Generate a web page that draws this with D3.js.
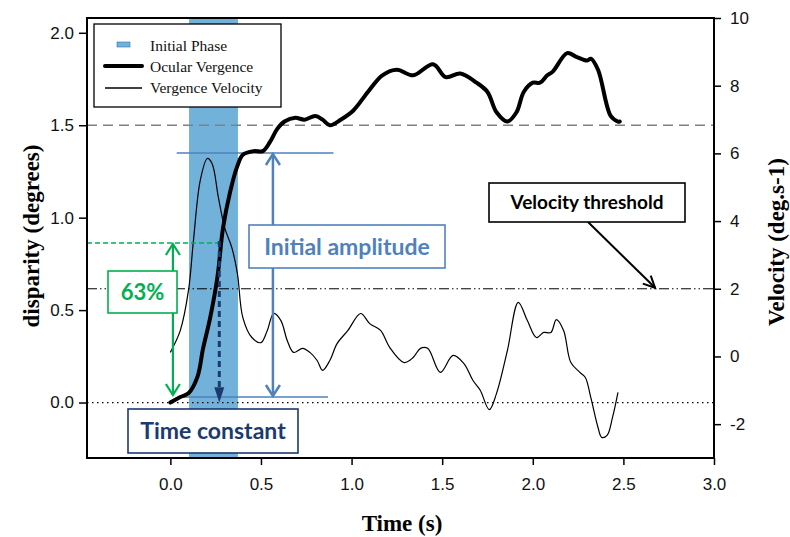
<!DOCTYPE html>
<html><head><meta charset="utf-8">
<script src="https://cdn.jsdelivr.net/npm/d3@7"></script>
<style>body{margin:0;background:#fff}</style>
</head><body><svg id="c" width="790" height="537"></svg>
<script>
// ---- data ----
const timeVerg = [0.00,0.055,0.10,0.15,0.18,0.22,0.26,0.29,0.33,0.37,0.40,0.46,0.51,0.55,0.59,0.63,0.69,0.74,0.80,0.84,0.88,0.94,1.01,1.09,1.17,1.25,1.34,1.45,1.52,1.60,1.69,1.75,1.80,1.86,1.91,1.95,2.00,2.04,2.08,2.11,2.19,2.24,2.30,2.32,2.36,2.43,2.47,2.48];
const vergence = [0.00,0.03,0.05,0.14,0.29,0.46,0.68,0.94,1.14,1.28,1.34,1.36,1.36,1.41,1.48,1.52,1.54,1.53,1.55,1.53,1.50,1.53,1.58,1.68,1.77,1.80,1.77,1.83,1.76,1.78,1.73,1.68,1.57,1.52,1.57,1.68,1.73,1.73,1.77,1.79,1.89,1.87,1.85,1.86,1.80,1.55,1.52,1.52];
const timeVel = [0.00,0.055,0.10,0.127,0.165,0.204,0.23,0.265,0.30,0.34,0.37,0.40,0.45,0.50,0.535,0.57,0.61,0.645,0.68,0.73,0.77,0.81,0.84,0.88,0.92,0.98,1.05,1.10,1.16,1.21,1.29,1.34,1.38,1.42,1.49,1.56,1.62,1.67,1.71,1.76,1.80,1.86,1.92,1.97,2.02,2.06,2.10,2.13,2.17,2.21,2.26,2.29,2.32,2.36,2.38,2.41,2.44,2.47];
const velocity = [0.12,0.77,1.95,3.4,5.2,5.85,5.7,4.7,3.8,3.2,2.45,1.15,0.56,0.41,0.77,1.27,1.06,0.47,0.12,0.24,0.12,-0.12,-0.41,-0.12,0.38,0.77,1.27,0.97,0.77,0.27,-0.18,-0.03,0.24,0.24,-0.47,0.03,-0.21,-0.71,-1.0,-1.57,-1.09,0.18,1.6,1.06,0.56,0.71,0.71,1.09,0.77,-0.18,-0.47,-0.62,-1.21,-2.1,-2.39,-2.33,-1.8,-1.06];
const xTicks = [0,0.5,1,1.5,2,2.5,3];
const yLeftTicks = [0,0.5,1,1.5,2];
const yRightTicks = [-2,0,2,4,6,8,10];
const initialPhase = [0.103, 0.373];
const velocityThreshold = 2;
const targetDisparity = 1.5;
const amplitudeTop = 1.35;
const amplitudeBase = 0.03;
const level63 = 0.863;
const timeConstant = 0.27;
const legendLabels = ["Initial Phase","Ocular Vergence","Vergence Velocity"];

// ---- scales ----
const L=87,R=714,T=18,B=458;
const x = d3.scaleLinear().domain([-0.46,3]).range([L,R]);
const yL = d3.scaleLinear().domain([-0.3,2.08]).range([B,T]);
const yR = d3.scaleLinear().domain([-3,10]).range([B,T]);

const svg = d3.select("#c");
const blue="#4f81bd", green="#00b050", navy="#1b3a6f", bandCol="#72b2da";

// band
svg.append("rect").attr("x",x(initialPhase[0])).attr("width",x(initialPhase[1])-x(initialPhase[0]))
  .attr("y",T).attr("height",B-T).attr("fill",bandCol);

// reference lines
svg.append("line").attr("x1",L).attr("x2",R).attr("y1",yL(targetDisparity)).attr("y2",yL(targetDisparity))
  .attr("stroke","#808080").attr("stroke-width",1.3).attr("stroke-dasharray","10,6");
svg.append("line").attr("x1",L).attr("x2",R).attr("y1",yR(velocityThreshold)).attr("y2",yR(velocityThreshold))
  .attr("stroke","#000").attr("stroke-width",1).attr("stroke-dasharray","10,3,1.5,3,1.5,3");
svg.append("line").attr("x1",L).attr("x2",R).attr("y1",yL(0)).attr("y2",yL(0))
  .attr("stroke","#000").attr("stroke-width",1.3).attr("stroke-dasharray","1.5,3.5");

// amplitude lines
svg.append("line").attr("x1",x(0.035)).attr("x2",x(0.90)).attr("y1",yL(amplitudeTop)).attr("y2",yL(amplitudeTop))
  .attr("stroke",blue).attr("stroke-width",1.5);
svg.append("line").attr("x1",x(0.04)).attr("x2",x(0.87)).attr("y1",yL(amplitudeBase)).attr("y2",yL(amplitudeBase))
  .attr("stroke",blue).attr("stroke-width",1.5);

// curves
const lineV = d3.line().x((d,i)=>x(timeVel[i])).y(d=>yR(d)).curve(d3.curveCatmullRom);
svg.append("path").attr("d",lineV(velocity)).attr("fill","none").attr("stroke","#000").attr("stroke-width",1.2);
const lineG = d3.line().x((d,i)=>x(timeVerg[i])).y(d=>yL(d)).curve(d3.curveCatmullRom);
svg.append("path").attr("d",lineG(vergence)).attr("fill","none").attr("stroke","#000").attr("stroke-width",4).attr("stroke-linecap","round");

function chevron(cx,cy,dir,col,w){ // dir: -1 tip up, 1 tip down
  svg.append("path").attr("d",`M${cx-7},${cy-dir*11}L${cx},${cy}L${cx+7},${cy-dir*11}`)
    .attr("fill","none").attr("stroke",col).attr("stroke-width",w);
}

// blue double arrow
const ax = x(0.566);
svg.append("line").attr("x1",ax).attr("x2",ax).attr("y1",yL(amplitudeTop)+1).attr("y2",yL(amplitudeBase)-1)
  .attr("stroke",blue).attr("stroke-width",2.5);
chevron(ax,yL(amplitudeTop)+1,-1,blue,2.5);
chevron(ax,yL(amplitudeBase)-1,1,blue,2.5);

// green
svg.append("line").attr("x1",L).attr("x2",x(timeConstant)).attr("y1",yL(level63)).attr("y2",yL(level63))
  .attr("stroke",green).attr("stroke-width",1.5).attr("stroke-dasharray","5,3");
const gx = x(0.014);
svg.append("line").attr("x1",gx).attr("x2",gx).attr("y1",yL(level63)+1).attr("y2",yL(amplitudeBase)-2)
  .attr("stroke",green).attr("stroke-width",2.2);
chevron(gx,yL(level63)+1,-1,green,2.2);
chevron(gx,yL(amplitudeBase)-2,1,green,2.2);

// navy dashed arrow
const nx = x(timeConstant);
svg.append("line").attr("x1",nx).attr("x2",nx).attr("y1",yL(level63)-2).attr("y2",yL(0.04))
  .attr("stroke",navy).attr("stroke-width",3).attr("stroke-dasharray","6,4");
svg.append("path").attr("d",`M${nx-5},${yL(0.04)-8}L${nx},${yL(0.0)}L${nx+5},${yL(0.04)-8}Z`).attr("fill",navy);

// threshold arrow
const tx2=x(2.675), ty2=yR(velocityThreshold)-1;
svg.append("line").attr("x1",588).attr("y1",222).attr("x2",tx2).attr("y2",ty2).attr("stroke","#000").attr("stroke-width",2);
{
  const ang=Math.atan2(ty2-222,tx2-588), len=13, sp=0.45;
  svg.append("path").attr("d",`M${tx2-len*Math.cos(ang-sp)},${ty2-len*Math.sin(ang-sp)}L${tx2},${ty2}L${tx2-len*Math.cos(ang+sp)},${ty2-len*Math.sin(ang+sp)}`)
    .attr("fill","none").attr("stroke","#000").attr("stroke-width",2);
}

// annotation boxes
function box(x0,y0,w,h,col,txt,size){
  svg.append("rect").attr("x",x0).attr("y",y0).attr("width",w).attr("height",h)
    .attr("fill","#fff").attr("stroke",col).attr("stroke-width",1.6);
  svg.append("text").attr("x",x0+w/2).attr("y",y0+h/2).attr("dy","0.36em").attr("text-anchor","middle")
    .attr("font-family","Lato, 'Open Sans', sans-serif").attr("font-weight","bold").attr("font-size",size)
    .attr("fill",col).text(txt);
}
box(249,225,196,43,blue,"Initial amplitude",23);
box(108,271,69,42,green,"63%",22);
box(128,409,170,44,navy,"Time constant",23);
box(489,183,196,39,"#000","Velocity threshold",19);

// frame
svg.append("rect").attr("x",L).attr("y",T).attr("width",R-L).attr("height",B-T)
  .attr("fill","none").attr("stroke","#000").attr("stroke-width",2);

// axes
const font="'Liberation Sans', Arial, sans-serif";
const gx_ = svg.append("g").attr("transform",`translate(0,${B})`)
  .call(d3.axisBottom(x).tickValues(xTicks).tickFormat(d3.format(".1f")).tickSize(7).tickPadding(13));
const gl = svg.append("g").attr("transform",`translate(${L},0)`)
  .call(d3.axisLeft(yL).tickValues(yLeftTicks).tickFormat(d3.format(".1f")).tickSize(8).tickPadding(5));
const gr = svg.append("g").attr("transform",`translate(${R},0)`)
  .call(d3.axisRight(yR).tickValues(yRightTicks).tickFormat(d=>String(d)).tickSize(7).tickPadding(9));
[gx_,gl,gr].forEach(g=>{
  g.select(".domain").remove();
  g.selectAll(".tick line").attr("stroke","#000").attr("stroke-width",1.5);
  g.selectAll("text").attr("font-family",font).attr("font-size",17).attr("fill","#111");
});

// axis titles
const serif="'Liberation Serif', 'Times New Roman', serif";
svg.append("text").attr("transform","translate(39,236) rotate(-90)").attr("text-anchor","middle")
  .attr("font-family",serif).attr("font-weight","bold").attr("font-size",23).text("disparity (degrees)");
svg.append("text").attr("transform","translate(784,242) rotate(-90)").attr("text-anchor","middle")
  .attr("font-family",serif).attr("font-weight","bold").attr("font-size",23).text("Velocity (deg.s-1)");
svg.append("text").attr("x",402).attr("y",531).attr("text-anchor","middle")
  .attr("font-family",serif).attr("font-weight","bold").attr("font-size",23).text("Time (s)");

// legend
svg.append("rect").attr("x",94).attr("y",24).attr("width",187).attr("height",83)
  .attr("fill","#fff").attr("stroke","#000").attr("stroke-width",1.3);
svg.append("rect").attr("x",117).attr("y",42).attr("width",13).attr("height",5).attr("fill",bandCol).attr("stroke","#3a6ea0").attr("stroke-width",0.6);
svg.append("line").attr("x1",105).attr("x2",142).attr("y1",66).attr("y2",66).attr("stroke","#000").attr("stroke-width",4).attr("stroke-linecap","round");
svg.append("line").attr("x1",105).attr("x2",142).attr("y1",88).attr("y2",88).attr("stroke","#000").attr("stroke-width",1.3);
legendLabels.forEach((t,i)=>{
  svg.append("text").attr("x",150).attr("y",[51,72,93][i]).attr("font-family",serif).attr("font-size",15.5).attr("fill","#111").text(t);
});
</script></body></html>
